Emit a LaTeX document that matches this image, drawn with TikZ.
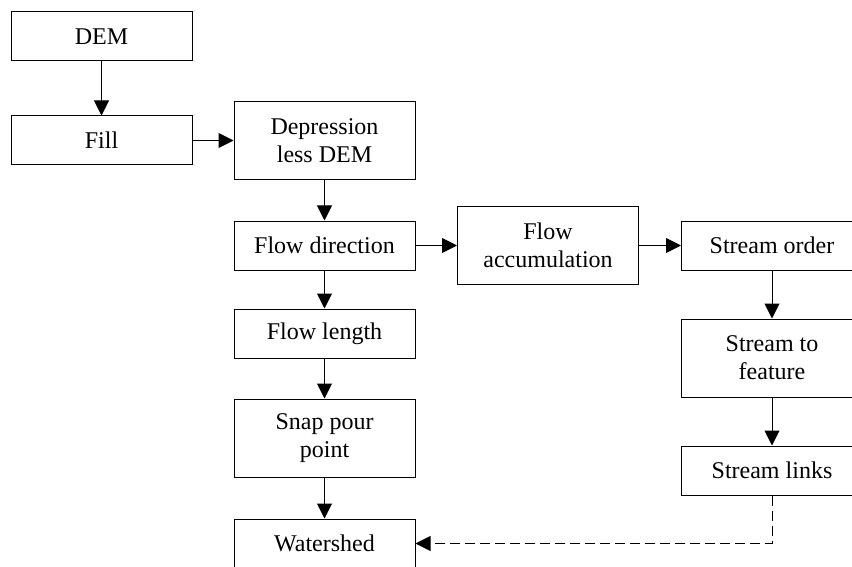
\documentclass[tikz,border=0pt]{standalone}
\usepackage{fontspec}
\setmainfont{Liberation Serif}
\usetikzlibrary{arrows.meta,positioning}

\tikzset{
  stepbox/.style={draw, line width=0.5pt, minimum width=90.5pt, minimum height=24.5pt,
    inner sep=0pt, align=center, font=\fontsize{12}{14}\selectfont},
  tallbox/.style={stepbox, minimum height=39pt},
  flow/.style={line width=0.5pt, -{Triangle[length=7.5pt,width=7.5pt]}},
}

\begin{document}
\begin{tikzpicture}[x=0.5pt,y=0.5pt]
  \useasboundingbox (0,0) rectangle (852,-567);
  % left column
  \node[stepbox] (dem)  at (101.5,-36.5) {DEM};
  \node[stepbox] (fill) at (101.5,-140.5) {Fill};
  % middle column
  \node[tallbox] (depless) at (324.5,-140.5) {Depression\\less DEM};
  \node[stepbox] (flowdir) at (324.5,-245.5) {Flow direction};
  \node[stepbox] (flowlen) at (324.5,-333.5) {Flow length};
  \node[tallbox] (snap)    at (324.5,-438) {Snap pour\\point};
  \node[stepbox] (wshed)   at (324.5,-543.5) {Watershed};
  % accumulation and stream column
  \node[tallbox] (flowacc) at (548,-245.5) {Flow\\accumulation};
  \node[stepbox] (sorder)  at (772,-245.5) {Stream order};
  \node[tallbox] (sfeat)   at (772,-358) {Stream to\\feature};
  \node[stepbox] (slinks)  at (772,-470.5) {Stream links};
  \coordinate (bend) at (772,-543.5);

  \draw[flow] (dem) -- (fill);
  \draw[flow] (fill) -- (depless);
  \draw[flow] (depless) -- (flowdir);
  \draw[flow] (flowdir) -- (flowlen);
  \draw[flow] (flowlen) -- (snap);
  \draw[flow] (snap) -- (wshed);
  \draw[flow] (flowdir) -- (flowacc);
  \draw[flow] (flowacc) -- (sorder);
  \draw[flow] (sorder) -- (sfeat);
  \draw[flow] (sfeat) -- (slinks);
  \draw[flow, dash pattern=on 5pt off 2.5pt] (slinks) -- (bend) -- (wshed);
\end{tikzpicture}
\end{document}
